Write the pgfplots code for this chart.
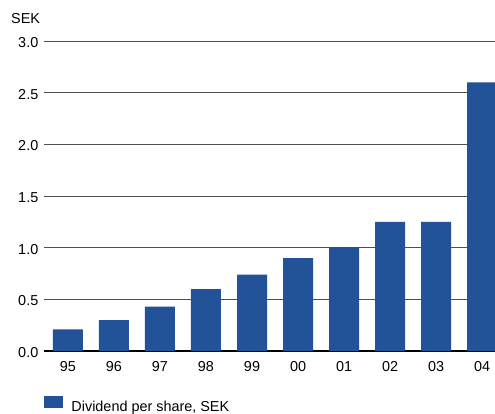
\documentclass[border=0pt]{standalone}
\usepackage{fontspec}
\setmainfont{Liberation Sans}
\usepackage{pgfplots}
\pgfplotsset{compat=1.18}
\definecolor{barblue}{RGB}{34,82,152}
\definecolor{gridc}{RGB}{80,80,80}
\begin{document}
\begin{tikzpicture}
\begin{axis}[
  scale only axis,
  width=451pt, height=310pt,
  xmin=-0.52, xmax=9.28,
  ymin=0, ymax=3.0,
  ytick={0,0.5,1,1.5,2,2.5,3},
  xtick={0,1,2,3,4,5,6,7,8,9},
  xticklabels={95,96,97,98,99,00,01,02,03,04},
  font=\fontsize{14.4}{16}\selectfont,
  /pgf/number format/assume math mode=true,
  yticklabel={\pgfmathprintnumber[fixed,fixed zerofill,precision=1]{\tick}},
  yticklabel style={anchor=east, xshift=-2.2pt, yshift=-1.5pt},
  xticklabel style={anchor=north, yshift=-7pt},
  axis x line*=bottom,
  axis y line*=left,
  y axis line style={draw=none},
  x axis line style={line width=2.6pt, -},
  major tick length=0pt,
  ymajorgrids=true,
  grid style={gridc, line width=1pt},
  ybar, bar width=30pt,
  legend style={at={(0,0)}, anchor=north west, draw=none, fill=none,
    inner sep=0pt, outer sep=0pt, yshift=-45pt, nodes={inner sep=0pt},
    column sep=8.5pt, font=\fontsize{14.4}{16}\selectfont},
  legend image code/.code={\fill[barblue] (0pt,-1pt) rectangle (19pt,11pt);},
]
\addplot[fill=barblue, draw=none, bar shift=0pt] coordinates {
 (0,0.21) (1,0.30) (2,0.43) (3,0.60) (4,0.74) (5,0.90) (6,1.00) (7,1.25) (8,1.25) (9,2.60)};
\addlegendentry{Dividend per share, SEK}
\end{axis}
\node[anchor=base west, inner sep=0pt, font=\fontsize{14.4}{16}\selectfont] at (-33pt,327pt) {SEK};
\pgfresetboundingbox
\path (-44pt,-62pt) rectangle (451pt,351pt);
\end{tikzpicture}
\end{document}
